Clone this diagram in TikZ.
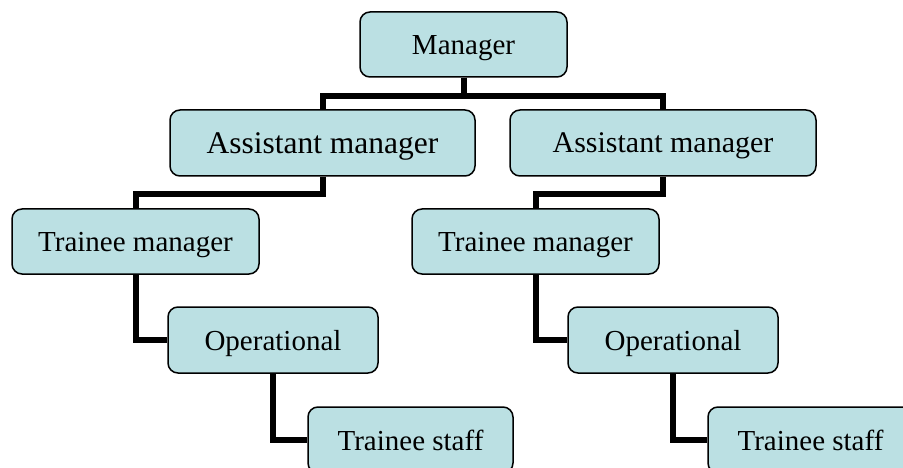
\documentclass[tikz,border=0pt]{standalone}
\usepackage{fontspec}
\setmainfont{Liberation Serif}
\usetikzlibrary{backgrounds}
\definecolor{boxfill}{RGB}{187,224,227}
\begin{document}
\begin{tikzpicture}[x=1pt,y=-1pt,
  box/.style={draw=black, line width=1.5pt, fill=boxfill, rounded corners=10pt,
    minimum height=65pt, inner sep=0pt, text height=20pt, text depth=0pt,
    font=\fontsize{29}{34}\selectfont},
  conn/.style={draw=black, line width=6pt}]
\useasboundingbox (0,0) rectangle (903,468);
\clip (0,0) rectangle (903,468);
\node[box, minimum width=207pt] (M) at (463.5,44.5) {Manager};
\node[box, minimum width=305pt, minimum height=66pt, font=\fontsize{31.5}{36}\selectfont, text height=21.5pt] (AL) at (322.5,143) {Assistant manager};
\node[box, minimum width=306pt, minimum height=66pt, font=\fontsize{30}{35}\selectfont] (AR) at (663,143) {Assistant manager};
\node[box, minimum width=247pt] (TL) at (135.5,241.5) {Trainee manager};
\node[box, minimum width=247pt] (TR) at (535.5,241.5) {Trainee manager};
\node[box, minimum width=210pt, minimum height=66pt] (OL) at (273,340) {Operational};
\node[box, minimum width=210pt, minimum height=66pt] (OR) at (673,340) {Operational};
\node[box, minimum width=205pt, minimum height=66pt] (SL) at (410.5,440) {Trainee staff};
\node[box, minimum width=205pt, minimum height=66pt] (SR) at (810.5,440) {Trainee staff};
\begin{scope}[on background layer]
\draw[conn] (M.south) -- ++(0,18.5) -| (AL.north);
\draw[conn] (M.south) -- ++(0,18.5) -| (AR.north);
\draw[conn] (AL.south) -- ++(0,17) -| (TL.north);
\draw[conn] (AR.south) -- ++(0,17) -| (TR.north);
\draw[conn] (TL.south) |- (OL.west);
\draw[conn] (TR.south) |- (OR.west);
\draw[conn] (OL.south) |- (SL.west);
\draw[conn] (OR.south) |- (SR.west);
\end{scope}
\end{tikzpicture}
\end{document}
